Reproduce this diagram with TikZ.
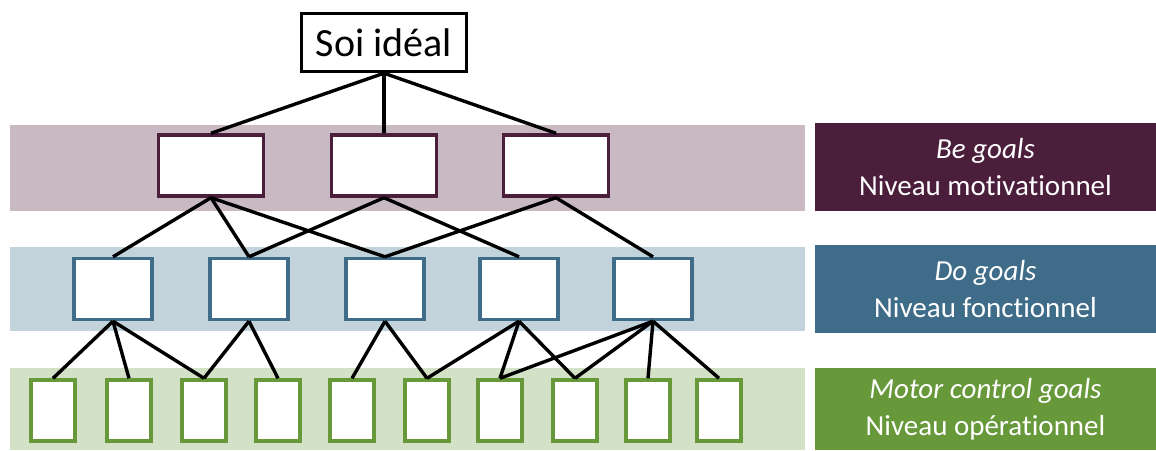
\documentclass[tikz,border=0pt]{standalone}
\usepackage{fontspec}
\setmainfont{Carlito}[Ligatures=NoCommon]
\begin{document}
\begin{tikzpicture}[x=1pt,y=-1pt,
  goalbox/.style={draw=#1,line width=3.4pt,fill=white,inner sep=0pt},
  bebox/.style={goalbox=bePurple,minimum width=105pt,minimum height=61pt},
  dobox/.style={goalbox=doBlue,minimum width=78pt,minimum height=61pt},
  mcbox/.style={goalbox=mcGreen,minimum width=44pt,minimum height=61pt},
  label/.style={fill=#1,text=white,minimum width=341pt,minimum height=88pt,inner sep=0pt,
    align=center,font=\fontsize{29}{37}\selectfont},
  link/.style={draw=black,line width=3.4pt}]
\definecolor{bePurple}{HTML}{4B1E3B}
\definecolor{beBand}{HTML}{C9B9C3}
\definecolor{doBlue}{HTML}{3E6C89}
\definecolor{doBand}{HTML}{C3D3DC}
\definecolor{mcGreen}{HTML}{67993B}
\definecolor{mcBand}{HTML}{D3E2C6}
\useasboundingbox (0,0) rectangle (1156,450);

% level bands
\fill[beBand] (10,125) rectangle (805,211);
\fill[doBand] (10,247) rectangle (805,331);
\fill[mcBand] (10,368) rectangle (805,450);

% level labels
\node[label=bePurple] (lbe) at (985.5,167) {\textit{Be goals}\\Niveau motivationnel};
\node[label=doBlue] (ldo) at (985.5,289) {\textit{Do goals}\\Niveau fonctionnel};
\node[label=mcGreen,minimum height=82pt] (lmc) at (985.5,409) {\textit{Motor control goals}\\Niveau opérationnel};

% ideal self
\node[draw=black,line width=3.4pt,fill=white,minimum width=165pt,minimum height=58pt,inner sep=0pt,
  font=\fontsize{40}{44}\selectfont] (soi) at (384,42.5) {Soi idéal};

% be goals
\foreach \i/\x in {1/211,2/384,3/556}
  \node[bebox] (b\i) at (\x,165.5) {};
% do goals
\foreach \i/\x in {1/113,2/249,3/385,4/519,5/653}
  \node[dobox] (d\i) at (\x,289) {};
% motor control goals
\foreach \i/\x in {1/53,2/129,3/204,4/278,5/352,6/427,7/500,8/575,9/648,10/719}
  \node[mcbox] (m\i) at (\x,410.5) {};

% links between levels
\foreach \b in {1,2,3}
  \draw[link] (soi.south) -- (b\b.north);
\foreach \b/\d in {1/1,1/2,1/3,2/2,2/4,3/3,3/5}
  \draw[link] (b\b.south) -- (d\d.north);
\foreach \d/\m in {1/1,1/2,1/3,2/3,2/4,3/5,3/6,4/6,4/7,4/8,5/7,5/8,5/9,5/10}
  \draw[link] (d\d.south) -- (m\m.north);
\end{tikzpicture}
\end{document}
